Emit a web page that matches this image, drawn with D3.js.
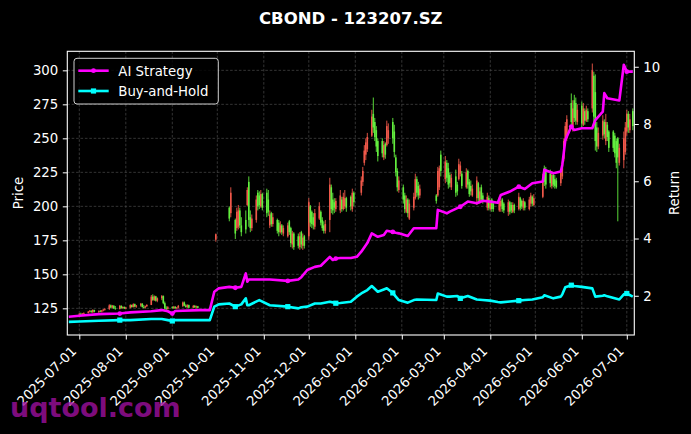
<!DOCTYPE html>
<html>
<head>
<meta charset="utf-8">
<script src="https://cdn.jsdelivr.net/npm/d3@7"></script>
<style>
  html, body { margin: 0; padding: 0; background: #000; }
  svg { display: block; }
</style>
</head>
<body>
<div id="chart"></div>
<script>
// ---- data ----
const chartTitle = "CBOND - 123207.SZ";
const priceTicks = [125, 150, 175, 200, 225, 250, 275, 300];
const returnTicks = [2, 4, 6, 8, 10];
const monthTicks = ["2025-07-01", "2025-08-01", "2025-09-01", "2025-10-01", "2025-11-01", "2025-12-01",
    "2026-01-01", "2026-02-01", "2026-03-01", "2026-04-01", "2026-05-01", "2026-06-01", "2026-07-01"];
const seriesNames = ["AI Strategy", "Buy-and-Hold"];

// [date, open, high, low, close]
const candles = [
    ["2025-07-01", 120.5, 121.5, 119.8, 121], ["2025-07-02", 121, 121.8, 120.4, 120.8],
    ["2025-07-03", 120.8, 121.5, 120.2, 121.2], ["2025-07-04", 121.2, 122, 120.8, 121.6],
    ["2025-07-07", 121.6, 123, 121.2, 122.6], ["2025-07-08", 122.6, 123.8, 122, 123.2],
    ["2025-07-09", 123.2, 123.6, 121.8, 122.2], ["2025-07-10", 122.2, 124.3, 121.5, 123.8],
    ["2025-07-11", 123.8, 124, 122, 122.5], ["2025-07-14", 122.5, 123.5, 121.6, 123],
    ["2025-07-15", 123, 123.8, 122.2, 122.6], ["2025-07-16", 122.6, 123.8, 122, 123.5],
    ["2025-07-17", 123.5, 124.5, 122.8, 124.1], ["2025-07-18", 124.1, 125, 123.3, 124.6],
    ["2025-07-21", 124.6, 128, 123.8, 127.2], ["2025-07-22", 127.2, 127.8, 125, 125.6],
    ["2025-07-23", 125.6, 127.5, 125, 127], ["2025-07-24", 127, 127.2, 124.5, 125],
    ["2025-07-25", 125, 126.7, 124, 124.5], ["2025-07-28", 124.5, 127.5, 124.2, 126.8],
    ["2025-07-29", 126.8, 127.2, 124.8, 125.3], ["2025-07-30", 125.3, 126.5, 124.6, 126],
    ["2025-07-31", 126, 126.4, 124.5, 124.9], ["2025-08-01", 124.9, 126, 124.3, 125.5],
    ["2025-08-04", 125.5, 128, 125, 127.4], ["2025-08-05", 127.4, 127.8, 125.5, 126],
    ["2025-08-06", 126, 128.7, 125.6, 128.1], ["2025-08-07", 128.1, 128.5, 125.8, 126.3],
    ["2025-08-08", 126.3, 127.5, 125.4, 127], ["2025-08-11", 127, 129, 126.2, 128.4],
    ["2025-08-12", 128.4, 128.8, 125.5, 126], ["2025-08-13", 126, 127.5, 125, 125.6],
    ["2025-08-14", 125.6, 127, 124.8, 126.6], ["2025-08-15", 126.6, 128, 126, 127.5],
    ["2025-08-18", 127.5, 134.8, 127.4, 133.6], ["2025-08-19", 133.6, 135.3, 130.5, 131.2],
    ["2025-08-20", 131.2, 134.5, 130.4, 133.8], ["2025-08-21", 133.8, 134.2, 130, 130.6],
    ["2025-08-22", 130.6, 133, 129.5, 132.4], ["2025-08-25", 132.4, 134.8, 131, 134],
    ["2025-08-26", 134, 134.5, 128, 128.8], ["2025-08-27", 128.8, 130, 124, 125],
    ["2025-08-28", 125, 126.5, 123.8, 124.6], ["2025-08-29", 124.6, 126.6, 124, 125.8],
    ["2025-09-01", 125.8, 126.5, 124.8, 125.2], ["2025-09-02", 125.2, 126.8, 124.6, 126.2],
    ["2025-09-03", 126.2, 126.5, 124.8, 125], ["2025-09-04", 125, 126, 124.3, 125.6],
    ["2025-09-05", 125.6, 127.5, 125, 126.8], ["2025-09-08", 126.8, 130, 126, 129.3],
    ["2025-09-09", 129.3, 130, 126.5, 127], ["2025-09-10", 127, 128, 125.5, 126],
    ["2025-09-11", 126, 128, 125.2, 127.4], ["2025-09-12", 127.4, 127.8, 125, 125.5],
    ["2025-09-15", 125.5, 127.5, 125, 126.8], ["2025-09-16", 126.8, 127.5, 125.3, 125.8],
    ["2025-09-17", 125.8, 127, 125, 126.5], ["2025-09-18", 126.5, 126.8, 125, 125.4],
    ["2025-09-30", 175.5, 180, 174, 179.5],
    ["2025-10-09", 199, 200, 189, 191], ["2025-10-10", 195, 214, 192, 210],
    ["2025-10-13", 190, 191, 176, 180], ["2025-10-14", 184, 199, 182, 196],
    ["2025-10-15", 185, 201, 183, 197], ["2025-10-16", 197, 199, 184, 186],
    ["2025-10-17", 186, 192, 178, 181], ["2025-10-20", 190, 197, 180, 183],
    ["2025-10-21", 201, 214, 200, 212], ["2025-10-22", 218, 222, 185, 190],
    ["2025-10-23", 192, 197, 181, 184], ["2025-10-24", 184, 194, 182, 191],
    ["2025-10-27", 190, 208, 188, 205], ["2025-10-28", 210, 212, 197, 200],
    ["2025-10-29", 208, 211, 198, 201], ["2025-10-30", 200, 212, 199, 209],
    ["2025-10-31", 209, 210, 197, 199], ["2025-11-03", 210, 213, 192, 195],
    ["2025-11-04", 205, 212, 193, 196], ["2025-11-05", 186, 197, 184, 194],
    ["2025-11-06", 195, 196, 185, 187], ["2025-11-07", 187, 195, 185, 192],
    ["2025-11-10", 190, 191, 180, 182], ["2025-11-11", 188, 190, 178, 181],
    ["2025-11-12", 181, 189, 180, 186], ["2025-11-13", 186, 187, 179, 181],
    ["2025-11-14", 180, 186, 178, 184], ["2025-11-17", 178, 188, 177, 186],
    ["2025-11-18", 189, 190, 179, 181], ["2025-11-19", 184, 185, 170, 173],
    ["2025-11-20", 172, 182, 169, 180], ["2025-11-21", 180, 181, 168, 170],
    ["2025-11-24", 178, 180, 169, 171], ["2025-11-25", 170, 181, 168, 178],
    ["2025-11-26", 181, 182, 169, 172], ["2025-11-27", 171, 180, 168, 177],
    ["2025-11-28", 178, 179, 169, 171], ["2025-12-01", 178, 206, 175, 203],
    ["2025-12-02", 200, 201, 185, 188], ["2025-12-03", 196, 197, 184, 187],
    ["2025-12-04", 192, 195, 183, 186], ["2025-12-05", 185, 198, 183, 195],
    ["2025-12-08", 191, 203, 190, 200], ["2025-12-09", 196, 197, 186, 188],
    ["2025-12-10", 190, 192, 182, 184], ["2025-12-11", 186, 189, 180, 182],
    ["2025-12-12", 182, 190, 180, 187], ["2025-12-15", 190, 221, 181, 216],
    ["2025-12-16", 214, 216, 195, 198], ["2025-12-17", 205, 210, 194, 197],
    ["2025-12-18", 203, 206, 195, 199], ["2025-12-19", 198, 206, 196, 204],
    ["2025-12-22", 197, 212, 195, 208], ["2025-12-23", 205, 207, 196, 198],
    ["2025-12-24", 198, 210, 197, 207], ["2025-12-25", 200, 212, 198, 206],
    ["2025-12-26", 206, 207, 196, 199], ["2025-12-29", 207, 208, 197, 200],
    ["2025-12-30", 198, 213, 196, 210], ["2025-12-31", 210, 211, 200, 203],
    ["2026-01-05", 210, 222, 208, 219], ["2026-01-06", 218, 229, 215, 226],
    ["2026-01-07", 232, 245, 230, 241], ["2026-01-08", 238, 250, 234, 247],
    ["2026-01-09", 242, 254, 240, 251], ["2026-01-12", 252, 271, 251, 266],
    ["2026-01-13", 268, 280, 254, 258], ["2026-01-14", 262, 265, 248, 251],
    ["2026-01-15", 256, 259, 240, 244], ["2026-01-16", 248, 250, 233, 237],
    ["2026-01-19", 248, 250, 236, 239], ["2026-01-20", 236, 248, 234, 245],
    ["2026-01-21", 246, 247, 235, 238], ["2026-01-22", 245, 263, 244, 259],
    ["2026-01-23", 250, 261, 246, 256], ["2026-01-26", 262, 265, 246, 250],
    ["2026-01-27", 255, 260, 236, 240], ["2026-01-28", 236, 238, 222, 225],
    ["2026-01-29", 226, 228, 211, 214], ["2026-01-30", 212, 222, 210, 219],
    ["2026-02-02", 214, 216, 202, 205], ["2026-02-03", 208, 210, 195, 198],
    ["2026-02-04", 196, 208, 195, 205], ["2026-02-05", 205, 206, 192, 195],
    ["2026-02-06", 191, 205, 190, 202], ["2026-02-09", 199, 210, 197, 207],
    ["2026-02-10", 206, 224, 205, 220], ["2026-02-11", 220, 222, 207, 210],
    ["2026-02-12", 215, 218, 205, 208], ["2026-02-13", 208, 216, 206, 213],
    ["2026-02-24", 208, 209, 202, 204], ["2026-02-25", 208, 229, 207, 226],
    ["2026-02-26", 214, 230, 212, 228], ["2026-02-27", 238, 241, 222, 226],
    ["2026-03-02", 220, 237, 217, 233], ["2026-03-03", 232, 234, 218, 221],
    ["2026-03-04", 228, 232, 213, 216], ["2026-03-05", 223, 225, 214, 217],
    ["2026-03-06", 214, 224, 212, 221], ["2026-03-09", 222, 227, 207, 210],
    ["2026-03-10", 216, 218, 208, 211], ["2026-03-11", 220, 235, 219, 231],
    ["2026-03-12", 224, 233, 222, 230], ["2026-03-13", 224, 226, 213, 215],
    ["2026-03-16", 214, 228, 213, 225], ["2026-03-17", 226, 227, 213, 216],
    ["2026-03-18", 218, 220, 207, 209], ["2026-03-19", 215, 219, 208, 211],
    ["2026-03-20", 208, 216, 207, 213], ["2026-03-23", 206, 222, 201, 219],
    ["2026-03-24", 217, 218, 203, 206], ["2026-03-25", 204, 214, 202, 211],
    ["2026-03-26", 214, 216, 203, 205], ["2026-03-27", 208, 210, 202, 204],
    ["2026-03-30", 199, 210, 197, 207], ["2026-03-31", 206, 208, 197, 199],
    ["2026-04-01", 198, 205, 197, 203], ["2026-04-02", 205, 206, 196, 198],
    ["2026-04-03", 202, 204, 196, 198], ["2026-04-07", 197, 207, 196, 205],
    ["2026-04-08", 200, 206, 196, 204], ["2026-04-09", 205, 206, 196, 198],
    ["2026-04-10", 202, 203, 195, 197], ["2026-04-13", 196, 205, 193, 203],
    ["2026-04-14", 203, 204, 194, 196], ["2026-04-15", 201, 203, 195, 197],
    ["2026-04-16", 196, 203, 195, 201], ["2026-04-17", 201, 202, 195, 197],
    ["2026-04-20", 198, 210, 197, 207], ["2026-04-21", 206, 207, 197, 199],
    ["2026-04-22", 204, 205, 198, 200], ["2026-04-23", 199, 206, 197, 204],
    ["2026-04-24", 203, 204, 197, 199], ["2026-04-27", 198, 207, 197, 205],
    ["2026-04-28", 202, 210, 200, 208], ["2026-04-29", 207, 208, 200, 202],
    ["2026-04-30", 201, 209, 200, 206], ["2026-05-06", 207, 224, 206, 221],
    ["2026-05-07", 228, 230, 215, 218], ["2026-05-08", 226, 229, 213, 216],
    ["2026-05-11", 224, 227, 214, 217], ["2026-05-12", 215, 226, 213, 223],
    ["2026-05-13", 223, 224, 214, 216], ["2026-05-14", 220, 223, 213, 215],
    ["2026-05-15", 219, 221, 213, 214], ["2026-05-18", 217, 227, 215, 225],
    ["2026-05-19", 222, 233, 220, 231], ["2026-05-20", 235, 250, 233, 248],
    ["2026-05-21", 248, 262, 245, 259], ["2026-05-22", 250, 267, 248, 264],
    ["2026-05-25", 276, 283, 258, 262], ["2026-05-26", 258, 278, 255, 272],
    ["2026-05-27", 278, 282, 262, 265], ["2026-05-28", 276, 280, 260, 263],
    ["2026-05-29", 262, 275, 260, 271], ["2026-06-01", 274, 277, 258, 261],
    ["2026-06-02", 260, 276, 259, 272], ["2026-06-03", 270, 272, 260, 263],
    ["2026-06-04", 263, 274, 262, 271], ["2026-06-05", 270, 272, 262, 264],
    ["2026-06-08", 272, 305, 269, 300], ["2026-06-09", 296, 299, 262, 266],
    ["2026-06-10", 284, 297, 241, 248], ["2026-06-11", 258, 262, 240, 244],
    ["2026-06-12", 244, 258, 242, 254], ["2026-06-15", 252, 267, 249, 263],
    ["2026-06-16", 262, 264, 250, 253], ["2026-06-17", 248, 268, 245, 262],
    ["2026-06-18", 260, 262, 248, 251], ["2026-06-19", 255, 256, 240, 243],
    ["2026-06-22", 255, 256, 240, 243], ["2026-06-23", 252, 254, 236, 239],
    ["2026-06-24", 248, 250, 228, 232], ["2026-06-25", 250, 251, 189, 236],
    ["2026-06-26", 232, 246, 230, 243], ["2026-06-29", 234, 255, 228, 250],
    ["2026-06-30", 240, 262, 238, 258], ["2026-07-01", 255, 271, 252, 268],
    ["2026-07-02", 268, 270, 254, 258], ["2026-07-03", 256, 268, 254, 264],
    ["2026-07-05", 270, 272, 256, 259]
];

// cumulative return curves (right axis)
const lineDates = ["2025-06-24", "2025-07-01", "2025-07-14", "2025-07-28", "2025-08-04", "2025-08-18",
    "2025-08-25", "2025-08-29", "2025-09-01", "2025-09-03", "2025-09-19", "2025-09-26", "2025-09-29",
    "2025-10-02", "2025-10-09", "2025-10-13", "2025-10-17", "2025-10-20", "2025-10-21", "2025-10-22",
    "2025-10-29", "2025-11-05", "2025-11-17", "2025-11-24", "2025-11-26", "2025-11-30", "2025-12-05",
    "2025-12-09", "2025-12-15", "2025-12-17", "2025-12-19", "2025-12-22", "2025-12-29", "2026-01-02",
    "2026-01-05", "2026-01-09", "2026-01-12", "2026-01-16", "2026-01-20", "2026-01-22", "2026-01-26",
    "2026-01-28", "2026-01-30", "2026-02-05", "2026-02-09", "2026-02-11", "2026-02-24", "2026-02-25",
    "2026-03-03", "2026-03-05", "2026-03-10", "2026-03-12", "2026-03-17", "2026-03-23", "2026-03-27",
    "2026-04-01", "2026-04-06", "2026-04-08", "2026-04-14", "2026-04-20", "2026-04-24", "2026-04-29",
    "2026-05-06", "2026-05-07", "2026-05-13", "2026-05-18", "2026-05-19", "2026-05-21", "2026-05-25",
    "2026-05-27", "2026-06-01", "2026-06-08", "2026-06-10", "2026-06-15", "2026-06-16", "2026-06-18",
    "2026-06-26", "2026-06-29", "2026-07-01", "2026-07-05"];
const aiReturn = [1.27, 1.30, 1.36, 1.38, 1.42, 1.46, 1.50, 1.46, 1.38, 1.47, 1.50, 1.50, 2.14,
    2.26, 2.31, 2.28, 2.31, 2.78, 2.49, 2.57, 2.57, 2.57, 2.52, 2.57, 2.65, 2.90, 3.01,
    3.05, 3.36, 3.25, 3.30, 3.32, 3.32, 3.36, 3.54, 3.84, 4.18, 4.06, 4.12, 4.27, 4.23,
    4.20, 4.18, 4.09, 4.36, 4.36, 4.36, 5.00, 4.88, 4.94, 5.06, 5.11, 5.29, 5.23, 5.32,
    5.29, 5.25, 5.52, 5.64, 5.81, 5.73, 5.93, 5.99, 6.40, 6.28, 6.34, 6.57, 7.44, 7.91,
    7.79, 7.85, 7.85, 8.14, 8.43, 9.08, 8.90, 8.82, 10.07, 9.83, 9.83];
const bhReturn = [1.09, 1.10, 1.13, 1.15, 1.15, 1.19, 1.19, 1.15, 1.12, 1.15, 1.15, 1.15, 1.62,
    1.70, 1.73, 1.62, 1.70, 1.91, 1.67, 1.67, 1.85, 1.67, 1.62, 1.56, 1.60, 1.62, 1.73,
    1.73, 1.79, 1.77, 1.74, 1.75, 1.79, 1.97, 2.08, 2.20, 2.34, 2.14, 2.22, 2.26, 2.10,
    1.97, 1.85, 1.76, 1.85, 1.87, 1.85, 2.08, 1.97, 1.97, 1.99, 1.91, 1.99, 1.87, 1.85,
    1.83, 1.78, 1.77, 1.80, 1.83, 1.85, 1.87, 1.95, 2.02, 1.91, 1.97, 2.05, 2.30, 2.37,
    2.34, 2.31, 2.26, 1.97, 2.00, 2.02, 1.98, 1.87, 2.05, 2.08, 1.97];
const markerDates = ["2025-07-28", "2025-09-01", "2025-10-13", "2025-11-17", "2025-12-19",
    "2026-01-26", "2026-03-12", "2026-04-20", "2026-05-25", "2026-07-01"];

// ---- drawing ----
const width = 691, height = 434;
const plot = {left: 67.3, right: 634.3, top: 51.3, bottom: 335};
const fontFamily = "'DejaVu Sans', sans-serif";
const upColor = "#f0584a", downColor = "#62ee3e";
const aiColor = "#ff00ff", bhColor = "#00ffff";

const parseDate = d3.timeParse("%Y-%m-%d");

const svg = d3.select("#chart")
    .append("svg")
    .attr("width", width)
    .attr("height", height)
    .style("background", "#000")
    .style("font-family", fontFamily);

const x = d3.scaleTime()
    .domain([parseDate("2025-06-23"), parseDate("2026-07-06")])
    .range([plot.left, plot.right]);
const yPrice = d3.scaleLinear().domain([105.4, 314]).range([plot.bottom, plot.top]);
const yRet = d3.scaleLinear().domain([0.63, 10.54]).range([plot.bottom, plot.top]);

svg.append("clipPath").attr("id", "clip")
    .append("rect")
    .attr("x", plot.left).attr("y", plot.top)
    .attr("width", plot.right - plot.left).attr("height", plot.bottom - plot.top);

// grid
const grid = svg.append("g").attr("stroke", "#4a4a4a").attr("stroke-width", 0.7).attr("stroke-dasharray", "2.6,1.8");
grid.selectAll(".vg").data(monthTicks).enter().append("line")
    .attr("x1", d => x(parseDate(d))).attr("x2", d => x(parseDate(d)))
    .attr("y1", plot.top).attr("y2", plot.bottom);
grid.selectAll(".hg").data(priceTicks).enter().append("line")
    .attr("x1", plot.left).attr("x2", plot.right)
    .attr("y1", d => yPrice(d)).attr("y2", d => yPrice(d));

// candlesticks
const cg = svg.append("g").attr("clip-path", "url(#clip)");
const bars = cg.selectAll(".candle").data(candles).enter().append("g");
bars.append("line")
    .attr("x1", d => x(parseDate(d[0]))).attr("x2", d => x(parseDate(d[0])))
    .attr("y1", d => yPrice(d[2])).attr("y2", d => yPrice(d[3]))
    .attr("stroke", d => d[4] >= d[1] ? upColor : downColor)
    .attr("stroke-width", 0.9);
bars.append("rect")
    .attr("x", d => x(parseDate(d[0])) - 0.8)
    .attr("width", 1.6)
    .attr("y", d => yPrice(Math.max(d[1], d[4])))
    .attr("height", d => Math.max(0.8, Math.abs(yPrice(d[1]) - yPrice(d[4]))))
    .attr("fill", d => d[4] >= d[1] ? upColor : downColor);

// return lines
const bhData = lineDates.map((d, i) => ({date: parseDate(d), v: bhReturn[i], key: d}));
const aiData = lineDates.map((d, i) => ({date: parseDate(d), v: aiReturn[i], key: d}));
const line = d3.line().x(d => x(d.date)).y(d => yRet(d.v));
const lg = svg.append("g").attr("clip-path", "url(#clip)");
lg.append("path").datum(bhData)
    .attr("fill", "none").attr("stroke", bhColor).attr("stroke-width", 2.6)
    .attr("stroke-linejoin", "round").attr("d", line);
lg.selectAll(".bhm").data(bhData.filter(d => markerDates.includes(d.key))).enter().append("rect")
    .attr("x", d => x(d.date) - 2.6).attr("y", d => yRet(d.v) - 2.6)
    .attr("width", 5.2).attr("height", 5.2).attr("fill", bhColor);
lg.append("path").datum(aiData)
    .attr("fill", "none").attr("stroke", aiColor).attr("stroke-width", 2.6)
    .attr("stroke-linejoin", "round").attr("d", line);
lg.selectAll(".aim").data(aiData.filter(d => markerDates.includes(d.key))).enter().append("circle")
    .attr("cx", d => x(d.date)).attr("cy", d => yRet(d.v))
    .attr("r", 2.4).attr("fill", aiColor);

// frame
svg.append("rect")
    .attr("x", plot.left).attr("y", plot.top)
    .attr("width", plot.right - plot.left).attr("height", plot.bottom - plot.top)
    .attr("fill", "none").attr("stroke", "#fff").attr("stroke-width", 1.1);

function styleAxis(g) {
    g.select(".domain").remove();
    g.selectAll(".tick line").attr("stroke", "#fff").attr("stroke-width", 1);
    g.selectAll(".tick text").attr("fill", "#fff")
        .style("font-size", "13.3px").style("font-family", fontFamily);
}

// x axis
const xAxis = svg.append("g")
    .attr("transform", "translate(0," + plot.bottom + ")")
    .call(d3.axisBottom(x)
        .tickValues(monthTicks.map(parseDate))
        .tickFormat(d3.timeFormat("%Y-%m-%d"))
        .tickSize(4.5));
styleAxis(xAxis);
xAxis.selectAll(".tick text")
    .attr("x", 0).attr("y", 0).attr("dy", null)
    .attr("transform", "translate(-2.5,17) rotate(-45)")
    .style("text-anchor", "end");

// left axis
const yAxisL = svg.append("g")
    .attr("transform", "translate(" + plot.left + ",0)")
    .call(d3.axisLeft(yPrice).tickValues(priceTicks).tickSize(4.5).tickPadding(4.5));
styleAxis(yAxisL);

// right axis
const yAxisR = svg.append("g")
    .attr("transform", "translate(" + plot.right + ",0)")
    .call(d3.axisRight(yRet).tickValues(returnTicks).tickSize(4.5).tickPadding(4.5));
styleAxis(yAxisR);

// axis labels
svg.append("text")
    .attr("transform", "translate(23,193) rotate(-90)")
    .attr("text-anchor", "middle").attr("fill", "#fff")
    .style("font-size", "13.3px").text("Price");
svg.append("text")
    .attr("transform", "translate(679,193) rotate(-90)")
    .attr("text-anchor", "middle").attr("fill", "#fff")
    .style("font-size", "13.3px").text("Return");

// title
svg.append("text")
    .attr("x", (plot.left + plot.right) / 2).attr("y", 24)
    .attr("text-anchor", "middle").attr("fill", "#fff")
    .style("font-size", "16.5px").style("font-weight", "bold")
    .text(chartTitle);

// legend
const legend = svg.append("g");
legend.append("rect")
    .attr("x", 74).attr("y", 58.3).attr("width", 144.3).attr("height", 45.7)
    .attr("rx", 3).attr("fill", "#000").attr("fill-opacity", 0.8)
    .attr("stroke", "#cfcfcf").attr("stroke-width", 1);
const legendColors = [aiColor, bhColor];
seriesNames.forEach(function(name, i) {
    const cy = 70.7 + i * 20.3;
    legend.append("line")
        .attr("x1", 78.3).attr("x2", 108.7).attr("y1", cy).attr("y2", cy)
        .attr("stroke", legendColors[i]).attr("stroke-width", 2.6);
    if (i === 0) {
        legend.append("circle").attr("cx", 93.5).attr("cy", cy).attr("r", 2.4).attr("fill", aiColor);
    } else {
        legend.append("rect").attr("x", 90.9).attr("y", cy - 2.6).attr("width", 5.2).attr("height", 5.2).attr("fill", bhColor);
    }
    legend.append("text")
        .attr("x", 118.3).attr("y", cy + 4.9)
        .attr("fill", "#fff").style("font-size", "13.3px")
        .text(name);
});

// watermark
svg.append("text")
    .attr("x", 10).attr("y", 416.7)
    .attr("fill", "#a010a0").attr("fill-opacity", 0.8)
    .style("font-size", "27px").style("font-weight", "bold")
    .text("uqtool.com");
</script>
</body>
</html>
